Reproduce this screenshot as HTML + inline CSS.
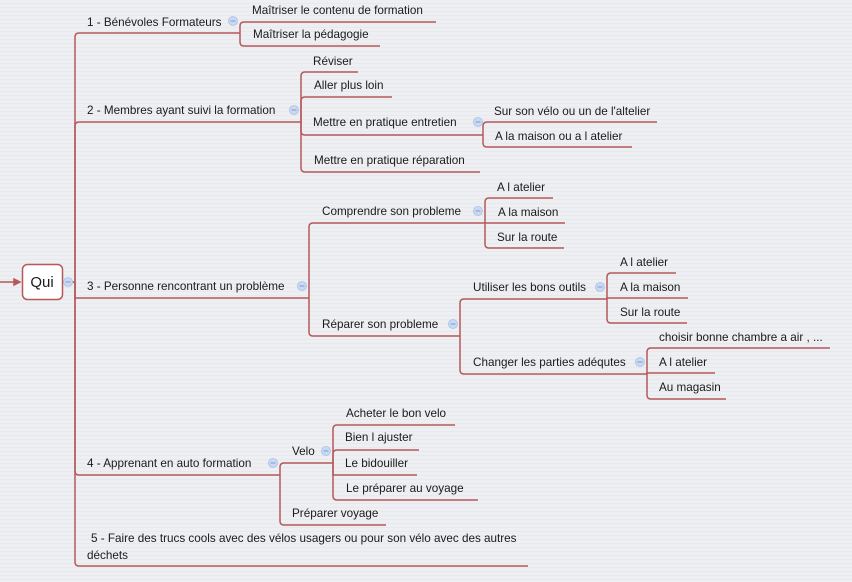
<!DOCTYPE html>
<html><head><meta charset="utf-8"><style>
html,body{margin:0;padding:0;background:#eeeff2;}
svg{display:block}
text{font-family:"Liberation Sans","DejaVu Sans",sans-serif;font-size:11.7px;fill:#1a1a1a;dominant-baseline:middle}
</style></head><body>
<svg width="852" height="582" viewBox="0 0 852 582" xmlns="http://www.w3.org/2000/svg">
<defs>
<pattern id="st" width="4" height="4" patternUnits="userSpaceOnUse"><rect width="4" height="4" fill="#eeeff2"/><rect y="3" width="4" height="1" fill="#e8e9ec"/></pattern>
<g id="cc"><circle r="4.5" fill="#c9d9f3" stroke="#a9c0e6" stroke-width="0.8"/><line x1="-2.5" x2="2.5" y1="0" y2="0" stroke="#7f9bd0" stroke-width="1"/></g>
</defs>
<rect width="852" height="582" fill="url(#st)"/>
<g fill="none" stroke="#b5595b" stroke-width="1.5">
<path d="M0 282 H18"/>
<path d="M14 279 L20 282 L14 285 Z" fill="#b5595b"/>
<path d="M62 282 H75"/>
<path d="M75 282 V37 Q75 33 79 33 H240"/>
<path d="M75 282 V126 Q75 122 79 122 H301"/>
<path d="M75 282 V298 H309"/>
<path d="M75 282 V471 Q75 475 79 475 H280"/>
<path d="M75 282 V562 Q75 566 79 566 H528"/>
<path d="M240 33 V26 Q240 22 244 22 H436"/>
<path d="M240 33 V42 Q240 46 244 46 H380"/>
<path d="M301 122 V76 Q301 72 305 72 H358"/>
<path d="M301 122 V101 Q301 97 305 97 H392"/>
<path d="M301 122 V131 Q301 135 305 135 H483"/>
<path d="M301 122 V168 Q301 172 305 172 H480"/>
<path d="M483 135 V126 Q483 122 487 122 H657"/>
<path d="M483 135 V143 Q483 147 487 147 H632"/>
<path d="M309 298 V227 Q309 223 313 223 H485"/>
<path d="M309 298 V332 Q309 336 313 336 H460"/>
<path d="M485 223 V202 Q485 198 489 198 H553"/>
<path d="M485 223 H565"/>
<path d="M485 223 V244 Q485 248 489 248 H564"/>
<path d="M460 336 V303 Q460 299 464 299 H607"/>
<path d="M460 336 V370 Q460 374 464 374 H647"/>
<path d="M607 299 V277 Q607 273 611 273 H676"/>
<path d="M607 299 V298 H688"/>
<path d="M607 299 V319 Q607 323 611 323 H687"/>
<path d="M647 374 V352 Q647 348 651 348 H830"/>
<path d="M647 374 V373 H715"/>
<path d="M647 374 V395 Q647 399 651 399 H726"/>
<path d="M280 475 V467 Q280 463 284 463 H333"/>
<path d="M280 475 V521 Q280 525 284 525 H386"/>
<path d="M333 463 V429 Q333 425 337 425 H455"/>
<path d="M333 463 V454 Q333 450 337 450 H419"/>
<path d="M333 463 V475 H417"/>
<path d="M333 463 V496 Q333 500 337 500 H478"/>
</g>
<rect x="22.5" y="264.5" width="40" height="35" rx="5" fill="#fff" stroke="#b5595b" stroke-width="1.5"/>
<text x="42" y="283" style="font-size:15px" text-anchor="middle">Qui</text>
<use href="#cc" x="68" y="282"/>
<use href="#cc" x="233" y="21"/>
<use href="#cc" x="294" y="110"/>
<use href="#cc" x="478" y="122"/>
<use href="#cc" x="302" y="286"/>
<use href="#cc" x="478" y="211"/>
<use href="#cc" x="453" y="324"/>
<use href="#cc" x="600" y="287"/>
<use href="#cc" x="640" y="362"/>
<use href="#cc" x="273" y="463"/>
<use href="#cc" x="326" y="451"/>
<g transform="translate(0,1)">
<text x="87" y="22">1 - Bénévoles Formateurs</text>
<text x="252" y="10">Maîtriser le contenu de formation</text>
<text x="253" y="34">Maîtriser la pédagogie</text>
<text x="87" y="110">2 - Membres ayant suivi la formation</text>
<text x="313" y="61">Réviser</text>
<text x="314" y="85">Aller plus loin</text>
<text x="313" y="122">Mettre en pratique entretien</text>
<text x="494" y="111">Sur son vélo ou un de l'altelier</text>
<text x="495" y="136">A la maison ou a l atelier</text>
<text x="314" y="160">Mettre en pratique réparation</text>
<text x="87" y="286">3 - Personne rencontrant un problème</text>
<text x="322" y="211">Comprendre son probleme</text>
<text x="497" y="187">A l atelier</text>
<text x="498" y="212">A la maison</text>
<text x="497" y="237">Sur la route</text>
<text x="322" y="324">Réparer son probleme</text>
<text x="473" y="287">Utiliser les bons outils</text>
<text x="620" y="262">A l atelier</text>
<text x="620" y="287">A la maison</text>
<text x="620" y="312">Sur la route</text>
<text x="473" y="362">Changer les parties adéqutes</text>
<text x="659" y="337">choisir bonne chambre a air , ...</text>
<text x="659" y="362">A l atelier</text>
<text x="659" y="387">Au magasin</text>
<text x="87" y="463">4 - Apprenant en auto formation</text>
<text x="292" y="451">Velo</text>
<text x="346" y="413">Acheter le bon velo</text>
<text x="345" y="437">Bien l ajuster</text>
<text x="345" y="463">Le bidouiller</text>
<text x="346" y="488">Le préparer au voyage</text>
<text x="292" y="513">Préparer voyage</text>
<text x="91" y="538">5 - Faire des trucs cools avec des vélos usagers ou pour son vélo avec des autres</text>
<text x="87" y="555">déchets</text>
</g>
</svg>
</body></html>
